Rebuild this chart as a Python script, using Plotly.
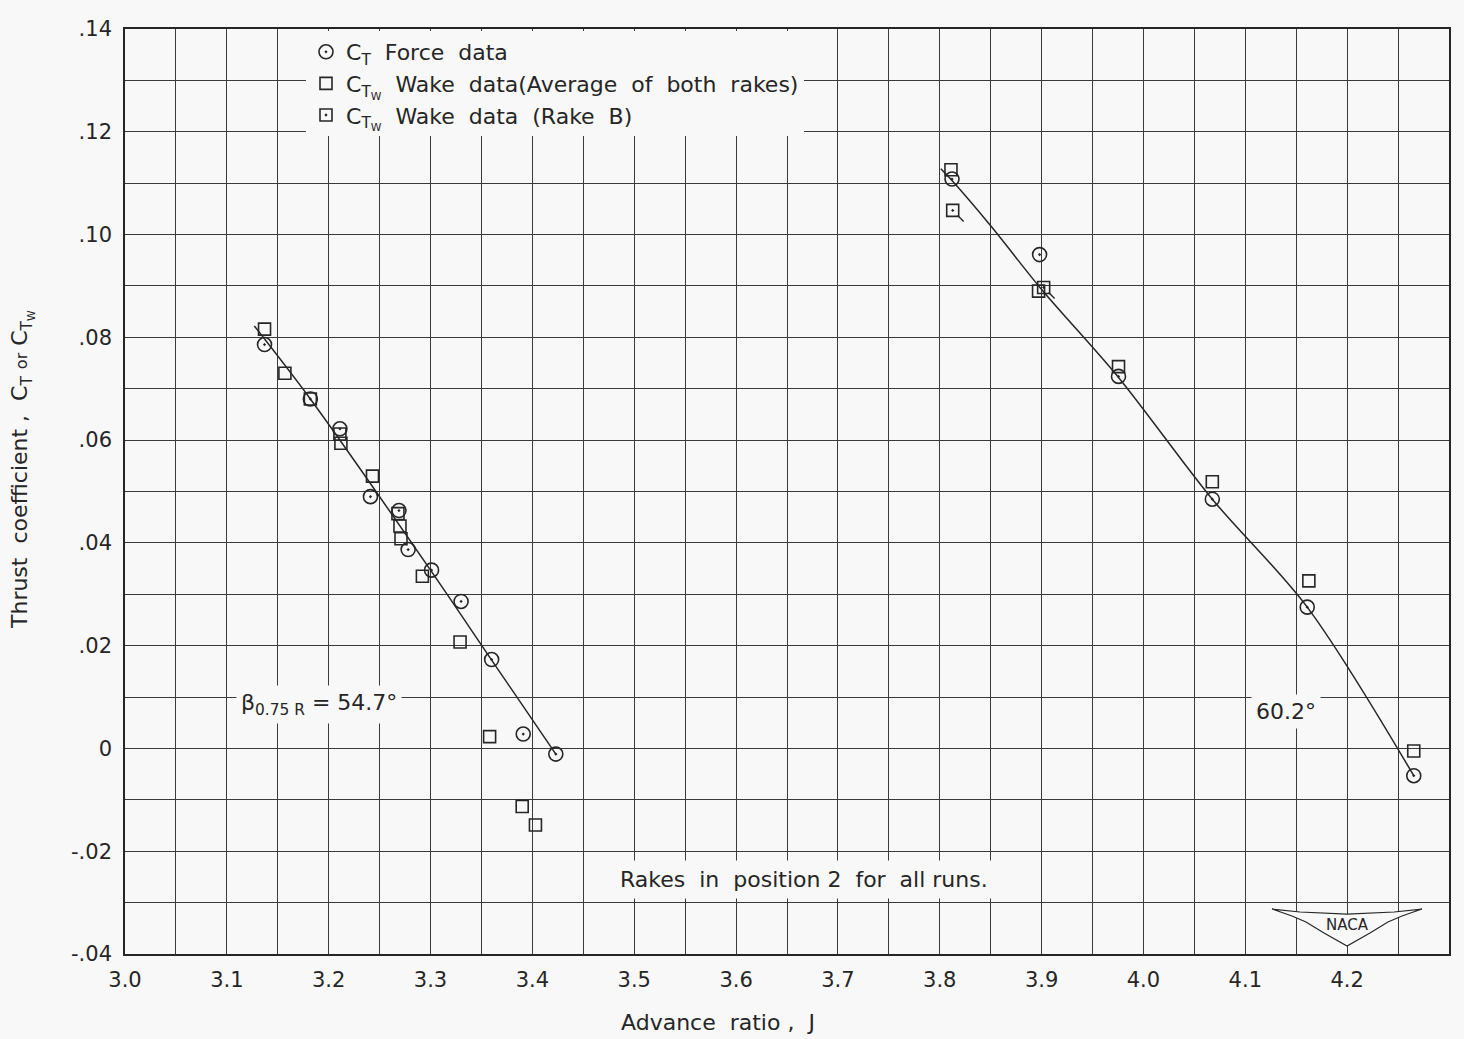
import plotly.graph_objects as go

# ---------------- data ----------------
# beta(0.75R) = 54.7 deg
J_force_547 = [3.137, 3.182, 3.211, 3.241, 3.269, 3.278, 3.301, 3.330, 3.360, 3.391, 3.423]
CT_force_547 = [0.0786, 0.0680, 0.0622, 0.0490, 0.0463, 0.0387, 0.0347, 0.0286, 0.0173, 0.0028, -0.0011]
J_wake_547 = [3.137, 3.157, 3.182, 3.211, 3.212, 3.243, 3.268, 3.270, 3.271, 3.292, 3.329, 3.358, 3.390, 3.403]
CTW_wake_547 = [0.0816, 0.0730, 0.0680, 0.0612, 0.0594, 0.0530, 0.0457, 0.0433, 0.0408, 0.0335, 0.0207, 0.0023, -0.0113, -0.0149]
J_fair_547 = [3.127, 3.182, 3.300, 3.360, 3.423]
C_fair_547 = [0.0822, 0.0680, 0.0347, 0.0172, -0.0011]

# beta(0.75R) = 60.2 deg
J_force_602 = [3.812, 3.898, 3.9755, 4.0676, 4.1608, 4.2654]
CT_force_602 = [0.1108, 0.0961, 0.0724, 0.0485, 0.0275, -0.0053]
J_wake_602 = [3.811, 3.897, 3.9755, 4.0676, 4.1624, 4.2654]
CTW_wake_602 = [0.1126, 0.0890, 0.0743, 0.0519, 0.0326, -0.0005]
J_rakeB_602 = [3.8127, 3.902]
CTW_rakeB_602 = [0.1047, 0.0897]
J_fair_602 = [3.801, 3.812, 3.850, 3.900, 3.9755, 4.0676, 4.1608, 4.2654]
C_fair_602 = [0.1128, 0.1105, 0.1017, 0.0893, 0.0722, 0.0485, 0.0275, -0.0053]

x_tick_values = [3.0, 3.1, 3.2, 3.3, 3.4, 3.5, 3.6, 3.7, 3.8, 3.9, 4.0, 4.1, 4.2, 4.3]
x_tick_labels = ["3.0", "3.1", "3.2", "3.3", "3.4", "3.5", "3.6", "3.7", "3.8", "3.9", "4.0", "4.1", "4.2", "4.3"]
y_tick_values = [-0.04, -0.02, 0.0, 0.02, 0.04, 0.06, 0.08, 0.10, 0.12, 0.14]
y_tick_labels = ["-.04", "-.02", "0", ".02", ".04", ".06", ".08", ".10", ".12", ".14"]

# ---------------- style ----------------
BG = "#f8f8f8"
INK = "#262626"
GRID = "#3a3a3a"
FONT = "DejaVu Sans"
W, H = 1464, 1039
ML, MR, MT, MB = 125, 15, 29, 85

def px(xpix):
    return (xpix - ML) / (W - ML - MR)

def py(ypix):
    return 1 - (ypix - MT) / (H - MT - MB)

fig = go.Figure()

# faired curves
for jx, cy in [(J_fair_547, C_fair_547), (J_fair_602, C_fair_602)]:
    fig.add_trace(go.Scatter(x=jx, y=cy, mode="lines", showlegend=False,
                             line=dict(color=INK, width=1.5, shape="spline", smoothing=0.9),
                             hoverinfo="skip"))

fig.add_trace(go.Scatter(
    x=J_force_547 + J_force_602, y=CT_force_547 + CT_force_602, mode="markers",
    name="C<sub>T</sub>  Force  data",
    marker=dict(symbol="circle-open-dot", size=14, color=INK, line=dict(width=1.6))))
fig.add_trace(go.Scatter(
    x=J_wake_547 + J_wake_602, y=CTW_wake_547 + CTW_wake_602, mode="markers",
    name="C<sub>T<sub>W</sub></sub>  Wake  data(Average  of  both  rakes)",
    marker=dict(symbol="square-open", size=12, color=INK, line=dict(width=1.6))))
fig.add_trace(go.Scatter(
    x=J_rakeB_602, y=CTW_rakeB_602, mode="markers",
    name="C<sub>T<sub>W</sub></sub>  Wake  data  (Rake  B)",
    marker=dict(symbol="square-open-dot", size=12, color=INK, line=dict(width=1.6))))

shapes = []
# tails on Rake B squares
for jx, cy in zip(J_rakeB_602, CTW_rakeB_602):
    shapes.append(dict(type="line", xref="x", yref="y", xsizemode="pixel", ysizemode="pixel",
                       xanchor=jx, yanchor=cy, x0=5, x1=11, y0=-5, y1=-11,
                       line=dict(color=INK, width=1.4)))

# NACA wing emblem (decoration)
wing = [(1272, 909), (1300, 912), (1347, 914), (1394, 912), (1422, 909),
        (1402, 916), (1388, 922), (1370, 933), (1347, 946), (1324, 933),
        (1306, 922), (1292, 916)]
path = "M " + " L ".join(f"{px(a):.4f},{py(b):.4f}" for a, b in wing) + " Z"
shapes.append(dict(type="path", xref="paper", yref="paper", path=path,
                   fillcolor=BG, line=dict(color=INK, width=1.2), layer="above"))

ann_font = dict(family=FONT, size=22, color=INK)
annotations = [
    dict(x=3.19, y=0.0085, xref="x", yref="y", showarrow=False, xanchor="center", yanchor="middle",
         text="β<sub>0.75 R</sub> = 54.7°", font=ann_font, bgcolor=BG, borderpad=4),
    dict(x=4.14, y=0.0072, xref="x", yref="y", showarrow=False, xanchor="center", yanchor="middle",
         text="60.2°", font=ann_font, bgcolor=BG, borderpad=4),
    dict(x=3.667, y=-0.0255, xref="x", yref="y", showarrow=False, xanchor="center", yanchor="middle",
         text="Rakes  in  position 2  for  all runs.", font=ann_font, bgcolor=BG, borderpad=6),
    dict(x=px(1347), y=py(925), xref="paper", yref="paper", showarrow=False,
         xanchor="center", yanchor="middle",
         text="NACA", font=dict(family=FONT, size=15, color=INK)),
    dict(x=px(718), y=py(1023), xref="paper", yref="paper", showarrow=False,
         xanchor="center", yanchor="middle",
         text="Advance  ratio ,  J", font=ann_font),
    dict(x=px(22), y=py(470), xref="paper", yref="paper", showarrow=False, textangle=-90,
         xanchor="center", yanchor="middle",
         text="Thrust  coefficient ,  C<sub>T</sub> <span style='font-size:16px'>or</span> C<sub>T<sub>W</sub></sub>",
         font=ann_font),
]

axis_common = dict(showline=True, linecolor=INK, linewidth=1.6, mirror=True,
                   showgrid=True, gridcolor=GRID, gridwidth=1.2, zeroline=False,
                   ticks="", tickfont=dict(family=FONT, size=21, color=INK))

fig.update_layout(
    width=W, height=H,
    margin=dict(l=ML, r=MR, t=MT, b=MB),
    paper_bgcolor=BG, plot_bgcolor=BG,
    font=dict(family=FONT, color=INK),
    xaxis=dict(range=[3.0, 4.3], tickvals=x_tick_values, ticktext=x_tick_labels,
               minor=dict(dtick=0.05, tick0=3.0, showgrid=True, gridcolor=GRID, gridwidth=1.2),
               ticklabelstandoff=6, **axis_common),
    yaxis=dict(range=[-0.04, 0.14], tickvals=y_tick_values, ticktext=y_tick_labels,
               minor=dict(dtick=0.01, tick0=0, showgrid=True, gridcolor=GRID, gridwidth=1.2),
               ticklabelstandoff=7, **axis_common),
    legend=dict(x=px(306), y=py(31), xanchor="left", yanchor="top",
                bgcolor=BG, borderwidth=0, font=dict(family=FONT, size=22, color=INK),
                tracegroupgap=0, itemwidth=30),
    shapes=shapes,
    annotations=annotations,
    showlegend=True,
)

fig.write_html("out.html")
